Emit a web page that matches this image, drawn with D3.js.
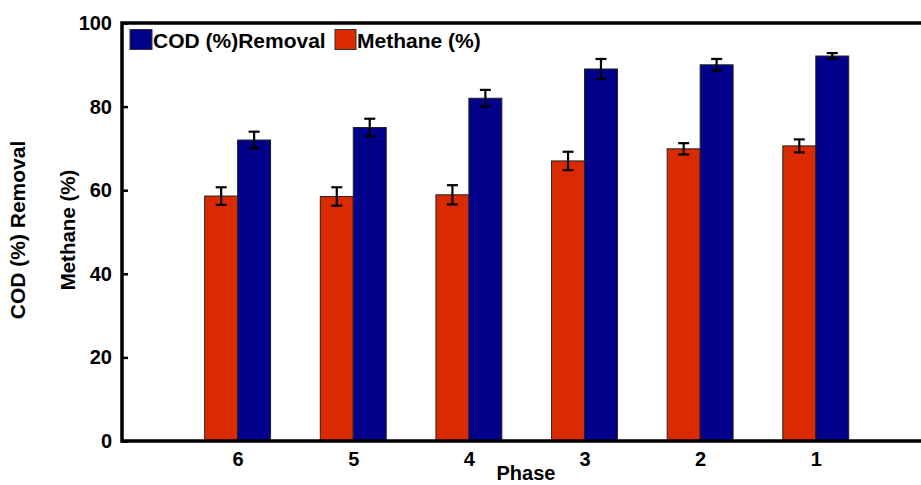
<!DOCTYPE html>
<html><head><meta charset="utf-8">
<script src="https://cdn.jsdelivr.net/npm/d3@7"></script>
<style>body{margin:0;background:#fff}svg{display:block}text{font-family:"Liberation Sans",Arial,sans-serif;font-weight:bold;fill:#000}</style>
</head><body>
<script>
const phases = ["6","5","4","3","2","1"];
const codRemoval = [72, 75, 82, 89, 90, 92.1];
const codErr = [2.0, 2.1, 2.0, 2.4, 1.4, 0.7];
const methane = [58.6, 58.5, 58.9, 67, 69.9, 70.6];
const methaneErr = [2.1, 2.2, 2.3, 2.2, 1.35, 1.55];
const yTicks = [0, 20, 40, 60, 80, 100];
const seriesNames = ["COD (%)Removal", "Methane (%)"];
const colors = {cod: "#00008B", methane: "#DA2B00"};

const W = 921, H = 485;
const svg = d3.select("body").append("svg").attr("width", W).attr("height", H);
const x = d3.scaleLinear().domain([0, 6.91]).range([122, 921]);
const y = d3.scaleLinear().domain([0, 100]).range([441, 23]);
const bw = 0.285;

const data = phases.map((p, i) => ({p, pos: i + 1, cod: codRemoval[i], codE: codErr[i], m: methane[i], mE: methaneErr[i]}));

// bars
const g = svg.append("g");
g.selectAll("rect.m").data(data).join("rect").attr("class","m")
  .attr("x", d => x(d.pos - bw)).attr("width", x(bw) - x(0))
  .attr("y", d => y(d.m)).attr("height", d => y(0) - y(d.m))
  .attr("fill", colors.methane).attr("stroke", "#222").attr("stroke-width", 1);
g.selectAll("rect.c").data(data).join("rect").attr("class","c")
  .attr("x", d => x(d.pos)).attr("width", x(bw) - x(0))
  .attr("y", d => y(d.cod)).attr("height", d => y(0) - y(d.cod))
  .attr("fill", colors.cod).attr("stroke", "#222").attr("stroke-width", 1);

// error bars
function err(sel, cx, v, e) {
  const xc = x(cx);
  sel.append("line").attr("x1", xc).attr("x2", xc).attr("y1", y(v - e)).attr("y2", y(v + e));
  sel.append("line").attr("x1", xc - 5.5).attr("x2", xc + 5.5).attr("y1", y(v - e)).attr("y2", y(v - e));
  sel.append("line").attr("x1", xc - 5.5).attr("x2", xc + 5.5).attr("y1", y(v + e)).attr("y2", y(v + e));
}
const eg = svg.append("g").attr("stroke", "#000").attr("stroke-width", 2.2);
data.forEach(d => {
  err(eg, d.pos - bw / 2, d.m, d.mE);
  err(eg, d.pos + bw / 2, d.cod, d.codE);
});

// axes
const yAxis = d3.axisLeft(y).tickValues(yTicks).tickSize(-6).tickPadding(10).tickFormat(d3.format("d"));
const ya = svg.append("g").attr("transform", `translate(${x(0)},0)`).call(yAxis);
ya.select(".domain").remove();
ya.selectAll(".tick line").attr("stroke", "#000").attr("stroke-width", 2.5);
ya.selectAll(".tick text").attr("font-size", 20).attr("fill", "#000")
  .style("font-family", "Liberation Sans, Arial, sans-serif").style("font-weight", "bold");

const xAxis = d3.axisBottom(x).tickValues(data.map(d => d.pos)).tickFormat((d, i) => phases[i]).tickSize(0).tickPadding(11);
const xa = svg.append("g").attr("transform", `translate(0,${y(0)})`).call(xAxis);
xa.select(".domain").remove();
xa.selectAll(".tick text").attr("font-size", 20).attr("fill", "#000")
  .style("font-family", "Liberation Sans, Arial, sans-serif").style("font-weight", "bold");

// frame lines: left, bottom, top
svg.append("path").attr("d", `M${W},${y(100)}H${x(0)}V${y(0)}H${W}`)
  .attr("fill", "none").attr("stroke", "#000").attr("stroke-width", 3.5);

// legend
const leg = svg.append("g");
leg.append("rect").attr("x", 130).attr("y", 29.5).attr("width", 22).attr("height", 20).attr("fill", colors.cod).attr("stroke", "#333").attr("stroke-width", 1);
leg.append("text").attr("x", 153).attr("y", 48).attr("font-size", 21).text(seriesNames[0]);
leg.append("rect").attr("x", 335).attr("y", 29.5).attr("width", 21).attr("height", 20).attr("fill", colors.methane).attr("stroke", "#333").attr("stroke-width", 1);
leg.append("text").attr("x", 357).attr("y", 48).attr("font-size", 21).text(seriesNames[1]);

// axis titles
svg.append("text").attr("transform", "translate(25,230) rotate(-90)").attr("text-anchor", "middle").attr("font-size", 21).text("COD (%) Removal");
svg.append("text").attr("transform", "translate(75,230) rotate(-90)").attr("text-anchor", "middle").attr("font-size", 20.5).text("Methane (%)");
svg.append("text").attr("x", 526).attr("y", 480).attr("text-anchor", "middle").attr("font-size", 20).text("Phase");
</script>
</body></html>
